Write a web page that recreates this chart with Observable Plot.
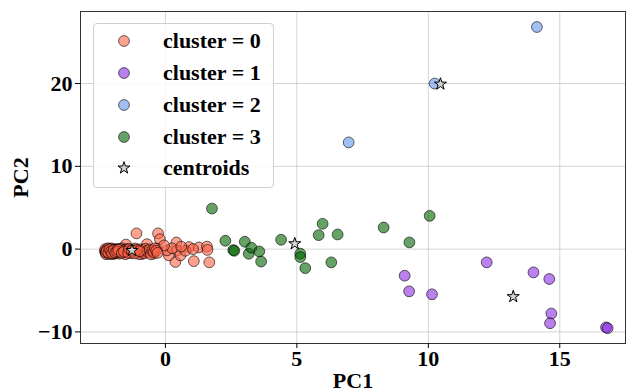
<!DOCTYPE html>
<html>
<head>
<meta charset="utf-8">
<script src="https://cdn.jsdelivr.net/npm/d3@7"></script>
<script src="https://cdn.jsdelivr.net/npm/@observablehq/plot@0.6"></script>
<style>
  html, body { margin: 0; padding: 0; background: #fff; }
  #wrap { position: relative; width: 626px; height: 392px; }
  #legend {
    position: absolute; left: 93px; top: 23px; width: 179px; height: 163px;
    border: 1px solid #d0d0d0; border-radius: 4px; background: rgba(255,255,255,0.85);
    font-family: "Liberation Serif", serif; font-weight: bold; font-size: 22px; color: #000;
  }
  .item { position: absolute; left: 0; height: 26px; }
  .mk { position: absolute; }
  .lab { position: absolute; left: 69px; top: 0; line-height: 26px; white-space: nowrap; }
</style>
</head>
<body>
<div id="wrap"><div id="chart"></div><div id="legend"></div></div>
<script>
// ---- data ----
const cluster0 = [
  // spread points
  [-1.10,1.90],[-0.28,1.90],[-0.21,1.20],[0.42,0.80],[0.44,-0.16],[0.38,-1.55],[1.08,-1.45],
  [0.90,0.25],[1.27,0.20],[1.58,0.30],[1.60,-0.10],[1.67,-1.60],[0.13,-0.75],[0.57,-0.75],
  [0.76,-0.20],[0.06,-0.15],[-0.32,0.05],[1.05,0.00],[0.25,0.10],[-0.05,0.45],[0.60,0.30],
  [-0.45,-0.55],[-0.70,0.60],[-1.50,0.55],[-0.90,-0.60],
  // dense band
  [-2.30,-0.30],[-2.28,-0.15],[-2.25,-0.45],[-2.23,-0.05],[-2.20,-0.25],[-2.18,-0.55],[-2.15,-0.10],
  [-2.12,-0.35],[-2.10,0.05],[-2.08,-0.50],[-2.05,-0.20],[-2.02,-0.40],[-2.00,-0.08],[-1.98,-0.60],
  [-1.95,-0.15],[-1.92,-0.30],[-1.90,0.00],[-1.88,-0.48],[-1.85,-0.18],[-1.82,-0.35],[-1.80,-0.02],
  [-1.76,-0.55],[-1.72,-0.12],[-1.68,-0.25],[-1.65,0.10],[-1.60,-0.42],[-1.56,-0.10],[-1.52,-0.62],
  [-1.48,-0.20],[-1.45,0.02],[-1.40,-0.32],[-1.35,-0.15],[-1.30,-0.50],[-1.25,-0.05],[-1.20,-0.28],
  [-1.15,0.08],[-1.10,-0.40],[-1.05,-0.18],[-1.00,-0.60],[-0.95,-0.02],[-0.90,-0.30],[-0.85,-0.10],
  [-0.80,-0.50],[-0.75,0.05],[-0.70,-0.20],[-0.65,-0.40],[-0.60,-0.05],[-0.55,-0.62],[-0.50,-0.15],
  [-0.45,-0.35],[-0.40,0.10],[-0.35,-0.20],[-0.30,-0.45],
  [-2.29,0.00],[-2.26,-0.62],[-2.22,-0.20],[-2.19,0.10],[-2.16,-0.30],[-2.14,-0.15],[-2.11,-0.60],
  [-2.09,-0.10],[-2.06,-0.35],[-2.04,0.08],[-2.01,-0.25],[-1.99,-0.20],[-1.96,-0.50],[-1.93,-0.05],
  [-1.89,-0.22],[-1.86,-0.10],[-1.78,-0.40],[-1.74,0.05],[-1.70,-0.30],[-1.62,-0.15],
  [-2.27,-0.38],[-2.24,-0.22],[-2.17,-0.45],[-2.13,-0.02],[-2.07,-0.28],[-2.03,-0.52],[-1.97,-0.12],
  [-1.91,-0.42],[-1.84,-0.28],[-1.79,-0.08],[-1.66,-0.48],[-1.58,-0.30],[-1.42,-0.45],[-1.38,0.00],
  [-1.28,-0.18],[-1.18,-0.52],[-1.08,-0.08],[-0.98,-0.25]
];
const cluster1 = [[9.10,-3.21],[9.27,-5.10],[10.14,-5.46],[12.22,-1.60],[14.00,-2.81],[14.60,-3.61],
  [14.68,-7.78],[14.63,-8.95],[16.76,-9.45],[16.82,-9.55]];
const cluster2 = [[6.97,12.89],[10.24,20.00],[14.13,26.83]];
const cluster3 = [[1.77,4.90],[2.28,1.01],[2.58,-0.12],[2.62,-0.20],[3.02,0.89],[3.17,-0.56],[3.27,0.17],
  [3.57,-0.28],[3.64,-1.50],[4.40,1.13],[5.13,-0.55],[5.13,-0.96],[5.32,-2.30],[5.83,1.69],[5.98,3.06],
  [6.31,-1.60],[6.55,1.77],[8.30,2.61],[9.28,0.81],[10.05,4.02]];
const centroidX = [-1.27, 13.23, 10.46, 4.92];
const centroidY = [-0.16, -5.74, 19.93, 0.65];
const clusterNames = ["cluster = 0", "cluster = 1", "cluster = 2", "cluster = 3"];
const clusterColors = ["#ff6347", "#8a2be2", "#6495ed", "#006400"];
const xTicks = [0, 5, 10, 15];
const yTicks = [-10, 0, 10, 20];

// ---- build tables ----
const points = [];
[cluster0, cluster1, cluster2, cluster3].forEach((arr, i) =>
  arr.forEach(([x, y]) => points.push({x, y, cluster: clusterNames[i]})));
const centroids = centroidX.map((x, i) => ({x, y: centroidY[i]}));

const fmt = d => d < 0 ? "\u2212" + Math.abs(d) : String(d);
const FONT = "Liberation Serif, serif";
const ALPHA = 0.6;
const STAR_R = 3.8;

const chart = Plot.plot({
  width: 626, height: 392,
  marginLeft: 80, marginRight: 1, marginTop: 11, marginBottom: 49,
  style: {fontFamily: FONT, fontSize: "22px", fontWeight: "bold", color: "#000", background: "#fff"},
  x: {domain: [-3.23, 17.5]},
  y: {domain: [-11.4, 28.7]},
  color: {domain: clusterNames, range: clusterColors},
  marks: [
    Plot.gridX(xTicks, {stroke: "#b0b0b0", strokeOpacity: 0.55, strokeWidth: 1}),
    Plot.gridY(yTicks, {stroke: "#b0b0b0", strokeOpacity: 0.55, strokeWidth: 1}),
    Plot.frame({stroke: "#333", strokeWidth: 1}),
    Plot.axisX({ticks: xTicks, tickFormat: fmt, tickSize: 5, tickPadding: 2, label: "PC1",
      labelAnchor: "center", labelArrow: "none", labelOffset: 44}),
    Plot.axisY({ticks: yTicks, tickFormat: fmt, tickSize: 5, tickPadding: 3, label: "PC2",
      labelAnchor: "center", labelArrow: "none", labelOffset: 68}),
    Plot.dot(points, {x: "x", y: "y", fill: "cluster", r: 5.4, fillOpacity: ALPHA,
      stroke: "black", strokeOpacity: ALPHA, strokeWidth: 1}),
    Plot.dot(centroids, {x: "x", y: "y", symbol: "star", r: STAR_R, fill: "#d3d3d3",
      stroke: "black", strokeWidth: 1})
  ]
});
document.getElementById("chart").appendChild(chart);

// ---- legend (HTML overlay) ----
const legend = document.getElementById("legend");
const rowTops = [4, 36, 68, 100, 131];
const entries = clusterNames.map((n, i) => ({name: n, color: clusterColors[i]}));
entries.push({name: "centroids", star: true});
entries.forEach((e, i) => {
  const row = document.createElement("div");
  row.className = "item";
  row.style.top = rowTops[i] + "px";
  row.style.width = "100%";
  const svg = d3.create("svg").attr("class", "mk").attr("width", 14).attr("height", 14)
    .attr("viewBox", "-7 -7 14 14").style("top", "6px").style("left", "23px");
  if (e.star) {
    svg.append("path").attr("d", d3.symbol(d3.symbolStar, STAR_R * STAR_R * Math.PI)())
      .attr("fill", "#d3d3d3").attr("stroke", "black").attr("stroke-width", 1);
  } else {
    svg.append("circle").attr("r", 5.4).attr("fill", e.color).attr("fill-opacity", ALPHA)
      .attr("stroke", "black").attr("stroke-opacity", ALPHA);
  }
  row.appendChild(svg.node());
  const lab = document.createElement("span");
  lab.className = "lab";
  lab.textContent = e.name;
  row.appendChild(lab);
  legend.appendChild(row);
});
</script>
</body>
</html>
